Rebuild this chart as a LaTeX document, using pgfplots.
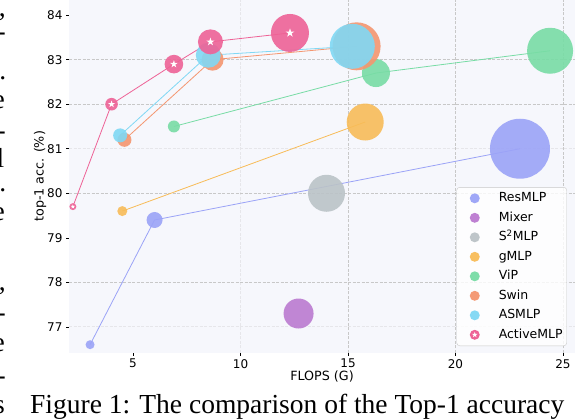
\documentclass[border=0pt]{standalone}
\usepackage{fontspec}
\setmainfont{DejaVu Sans}
\newfontfamily\seriffont{Liberation Serif}
\usepackage{pgfplots}
\usepackage{pgfplotstable}
\pgfplotsset{compat=1.18}

\definecolor{bgc}{HTML}{F6F7FC}
\definecolor{resc}{HTML}{9BA3F7}
\definecolor{mixc}{HTML}{BB7AD0}
\definecolor{s2c}{HTML}{BBC3C7}
\definecolor{gmc}{HTML}{F8BC58}
\definecolor{vipc}{HTML}{78DCA5}
\definecolor{swinc}{HTML}{F49670}
\definecolor{asc}{HTML}{80D8F4}
\definecolor{actc}{HTML}{EE6296}
\definecolor{gridd}{HTML}{C8C8C8}
\definecolor{gridf}{HTML}{E6E6EA}

% filled five point star (white mark inside the ActiveMLP bubbles)
\pgfdeclareplotmark{fstar}{%
  \pgfpathmoveto{\pgfqpointpolar{90}{\pgfplotmarksize}}%
  \pgfpathlineto{\pgfqpointpolar{126}{0.38\pgfplotmarksize}}%
  \pgfpathlineto{\pgfqpointpolar{162}{\pgfplotmarksize}}%
  \pgfpathlineto{\pgfqpointpolar{198}{0.38\pgfplotmarksize}}%
  \pgfpathlineto{\pgfqpointpolar{234}{\pgfplotmarksize}}%
  \pgfpathlineto{\pgfqpointpolar{270}{0.38\pgfplotmarksize}}%
  \pgfpathlineto{\pgfqpointpolar{306}{\pgfplotmarksize}}%
  \pgfpathlineto{\pgfqpointpolar{342}{0.38\pgfplotmarksize}}%
  \pgfpathlineto{\pgfqpointpolar{18}{\pgfplotmarksize}}%
  \pgfpathlineto{\pgfqpointpolar{54}{0.38\pgfplotmarksize}}%
  \pgfpathclose\pgfusepathqfill}

% x = FLOPS (G), y = top-1 acc., r = bubble radius (pt), s = star radius (pt)
\pgfplotstableread{
x y r
3.0 76.6 4.5
6.0 79.4 8
23.0 81.0 30
}\resmlp
\pgfplotstableread{
x y r
12.7 77.3 15
}\mixer
\pgfplotstableread{
x y r
14.0 80.0 18.5
}\smlp
\pgfplotstableread{
x y r
4.5 79.6 5
15.8 81.6 18.5
}\gmlp
\pgfplotstableread{
x y r
6.9 81.5 6
16.3 82.7 14
24.4 83.2 23
}\vip
\pgfplotstableread{
x y r
4.6 81.2 7
8.7 83.0 11
15.4 83.3 24
}\swin
\pgfplotstableread{
x y r
4.4 81.3 7
8.5 83.1 12.5
15.2 83.3 22.5
}\asmlp
\pgfplotstableread{
x y r s
2.2 79.7 3.5 2.3
4.0 82.0 6.3 3.7
6.9 82.9 9.3 4.0
8.6 83.4 12.5 4.3
12.3 83.6 19 4.6
}\activemlp

\pgfplotsset{
  link/.style={#1, line width=0.8pt, no marks, forget plot},
  bubbles/.style={scatter, only marks, mark=*, forget plot,
    scatter/use mapped color={draw=#1, fill=#1, fill opacity=0.9, draw opacity=0},
    visualization depends on={\thisrow{r}\as\bsize},
    scatter/@pre marker code/.append style={/tikz/mark size=\bsize pt}},
  limg/.style={legend image code/.code={%
    \path[draw=none, fill=none] (-15pt,0pt) -- (5pt,0pt);
    \fill[#1, draw=none, fill opacity=0.95] (0pt,0pt) circle (5pt);}},
}

\begin{document}
\begin{tikzpicture}
\useasboundingbox (0,0) rectangle (580pt,418pt);
\clip (0,0) rectangle (580pt,418pt);
\begin{axis}[
  at={(69pt,65.3pt)}, anchor=south west,
  scale only axis, width=506pt, height=352.7pt,
  xmin=2.02, xmax=25.56, ymin=76.42, ymax=84.34,
  axis background/.style={fill=bgc},
  axis line style={draw=none},
  tick pos=left, tick align=outside, major tick length=3pt,
  tick style={black, line width=0.6pt},
  xtick={15,20,25}, ytick={78,80,82,83},
  xmajorgrids, ymajorgrids,
  major grid style={gridd, line width=0.8pt, dash pattern=on 3pt off 1.5pt},
  extra x ticks={5,10}, extra y ticks={77,79,81,84},
  extra tick style={grid=none},
  minor xtick={10}, minor ytick={77,81}, minor tick length=0pt,
  xminorgrids, yminorgrids,
  minor grid style={gridf, line width=0.8pt, dash pattern=on 3pt off 1.5pt},
  /pgf/number format/assume math mode=true,
  tick label style={font=\fontsize{12}{14}\selectfont},
  xlabel={FLOPS (G)}, ylabel={top-1 acc. (\%)},
  label style={font=\fontsize{12.7}{14}\selectfont},
  x label style={at={(axis description cs:0.5,-0.052)}, anchor=north, inner sep=0pt},
  y label style={at={(axis description cs:-0.057,0.5)}, anchor=center, inner sep=0pt},
  legend style={at={(0.984,0.019)}, anchor=south east,
    draw=gridd, rounded corners=3pt, fill=white, fill opacity=0.8, text opacity=1,
    font=\fontsize{12.5}{14}\selectfont,
    inner xsep=3pt, inner ysep=4pt, row sep=5.5pt, column sep=18pt,
    nodes={inner sep=1pt, text height=9.5pt, text depth=2.5pt}},
  legend cell align=left,
]
\addlegendimage{limg=resc}\addlegendentry{ResMLP}
\addlegendimage{limg=mixc}\addlegendentry{Mixer}
\addlegendimage{limg=s2c}\addlegendentry{S\textsuperscript{2}MLP}
\addlegendimage{limg=gmc}\addlegendentry{gMLP}
\addlegendimage{limg=vipc}\addlegendentry{ViP}
\addlegendimage{limg=swinc}\addlegendentry{Swin}
\addlegendimage{limg=asc}\addlegendentry{ASMLP}
\addlegendimage{legend image code/.code={%
    \path[draw=none, fill=none] (-15pt,0pt) -- (5pt,0pt);
    \fill[actc, draw=none, fill opacity=1] (0pt,0pt) circle (5pt);
    \path[draw=none, fill=none] plot[mark=fstar, mark size=3pt,
      mark options={fill=white, draw=none, fill opacity=1}] coordinates {(0pt,0pt)};}}
\addlegendentry{ActiveMLP}

\addplot[link=resc] table[x=x, y=y] {\resmlp};
\addplot[bubbles=resc] table[x=x, y=y] {\resmlp};
\addplot[bubbles=mixc] table[x=x, y=y] {\mixer};
\addplot[bubbles=s2c] table[x=x, y=y] {\smlp};
\addplot[link=gmc] table[x=x, y=y] {\gmlp};
\addplot[bubbles=gmc] table[x=x, y=y] {\gmlp};
\addplot[link=vipc] table[x=x, y=y] {\vip};
\addplot[bubbles=vipc] table[x=x, y=y] {\vip};
\addplot[link=swinc] table[x=x, y=y] {\swin};
\addplot[bubbles=swinc] table[x=x, y=y] {\swin};
\addplot[link=asc] table[x=x, y=y] {\asmlp};
\addplot[bubbles=asc] table[x=x, y=y] {\asmlp};
\addplot[link=actc] table[x=x, y=y] {\activemlp};
\addplot[bubbles=actc] table[x=x, y=y] {\activemlp};
\addplot[scatter, only marks, mark=fstar, forget plot,
  scatter/use mapped color={draw=white, fill=white},
  visualization depends on={\thisrow{s}\as\ssize},
  scatter/@pre marker code/.append style={/tikz/mark size=\ssize pt}]
  table[x=x, y=y] {\activemlp};
\end{axis}

% caption of the figure, cut by the right edge
\node[anchor=base west, inner sep=0pt, font=\seriffont\fontsize{27.5}{30}\selectfont]
  at (30pt,5pt) {Figure 1: The comparison of the Top-1 accuracy};

% line ends of the neighbouring text column
\begin{scope}[every node/.style={anchor=base east, inner sep=0pt,
    font=\seriffont\fontsize{27.5}{30}\selectfont}]
  \node at (6pt,401pt) {,};
  \node at (6pt,377pt) {-};
  \node at (6.5pt,338pt) {.};
  \node at (5pt,309pt) {e};
  \node at (6pt,278pt) {-};
  \node at (4.5pt,250pt) {l};
  \node at (6.5pt,226pt) {.};
  \node at (5pt,197pt) {e};
  \node at (6pt,128pt) {,};
  \node at (6pt,97pt) {-};
  \node at (5pt,67pt) {e};
  \node at (6pt,34pt) {-};
  \node at (5pt,5pt) {s};
\end{scope}
\end{tikzpicture}
\end{document}
